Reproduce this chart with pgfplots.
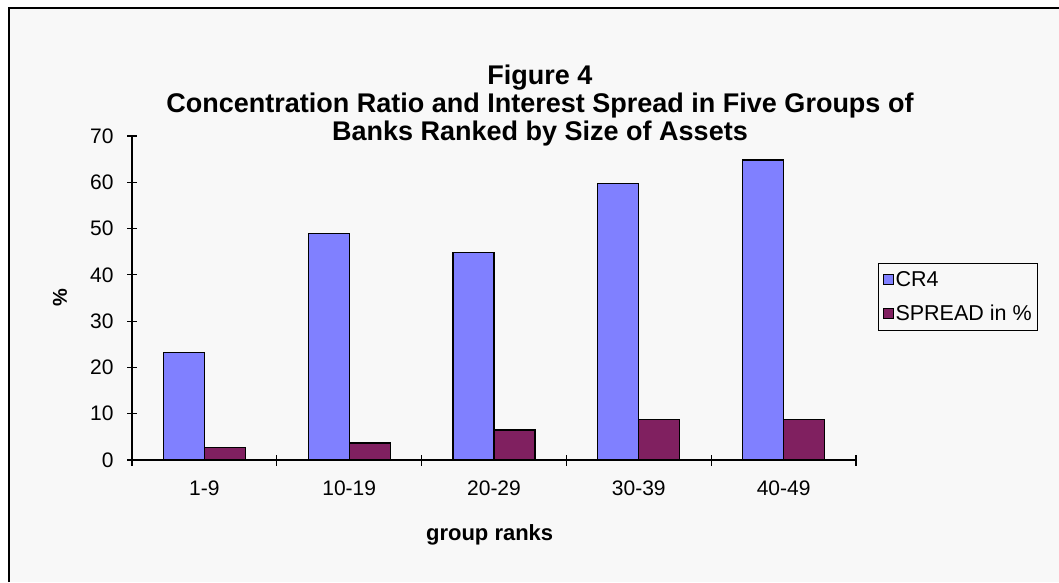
\documentclass[border=0pt]{standalone}
\usepackage{fontspec}
\setmainfont{Liberation Sans}
\usepackage{pgfplots}
\pgfplotsset{compat=1.18}
\definecolor{bgc}{HTML}{F8F8F8}
\definecolor{crc}{HTML}{8080FF}
\definecolor{spc}{HTML}{802060}
\begin{document}
\begin{tikzpicture}[x=1pt,y=1pt]
\useasboundingbox (0,0) rectangle (1059,582);
\fill[white] (0,0) rectangle (1059,582);
\fill[bgc] (8,0) rectangle (1059,575);
\draw[black,line width=2pt] (9,0) -- (9,574) -- (1059,574);
\begin{axis}[
  at={(132pt,122pt)}, anchor=south west,
  scale only axis, width=724pt, height=324pt,
  ybar=0pt, bar width=41pt,
  xmin=-0.5, xmax=4.5, ymin=0, ymax=70,
  axis x line=bottom, axis y line=left,
  axis line style={-, black, line width=1.2pt},
  xtick={0,1,2,3,4},
  xticklabels={1-9,10-19,20-29,30-39,40-49},
  minor xtick={-0.5,0.5,1.5,2.5,3.5,4.5},
  ytick={0,10,20,30,40,50,60,70},
  tick align=center,
  major x tick style={draw=none},
  minor tick length=11pt, major tick length=10pt,
  tick style={black, line width=1.2pt},
  /pgf/number format/assume math mode=true,
  tick label style={font=\fontsize{21}{24}\selectfont},
  xticklabel style={yshift=-12pt},
  yticklabel style={xshift=-10pt},
  xlabel={\textbf{group ranks}},
  xlabel style={font=\fontsize{22}{24}\selectfont, at={(rel axis cs:0.494,-0.232)}, anchor=center},
  ylabel={\textbf{\%}},
  ylabel style={font=\fontsize{20}{24}\selectfont, at={(rel axis cs:-0.0995,0.5)}, anchor=center},
  title={\textbf{Figure 4}\\\textbf{Concentration Ratio and Interest Spread in Five Groups of}\\\textbf{Banks Ranked by Size of Assets}},
  title style={font=\fontsize{27}{28}\selectfont, align=center, at={(rel axis cs:0.5635,1.077)}, anchor=center},
  legend style={at={(rel axis cs:1.0304,0.608)}, anchor=north west, draw=black, line width=1pt, fill=bgc,
    font=\fontsize{21.5}{24}\selectfont, row sep=13pt, inner xsep=4pt, inner ysep=6pt,
    /tikz/every even column/.append style={column sep=9pt}},
  legend cell align=left,
  legend image code/.code={\draw[#1, line width=1pt] (0pt,-5pt) rectangle (10pt,5pt);},
  clip=false,
]
\addplot[fill=crc, draw=black, line width=1.3pt] coordinates {(0,23.2) (1,49.0) (2,44.9) (3,59.8) (4,64.8)};
\addplot[fill=spc, draw=black, line width=1.3pt] coordinates {(0,2.7) (1,3.7) (2,6.5) (3,8.8) (4,8.8)};
\legend{CR4, SPREAD in \%}
\end{axis}
\end{tikzpicture}
\end{document}
